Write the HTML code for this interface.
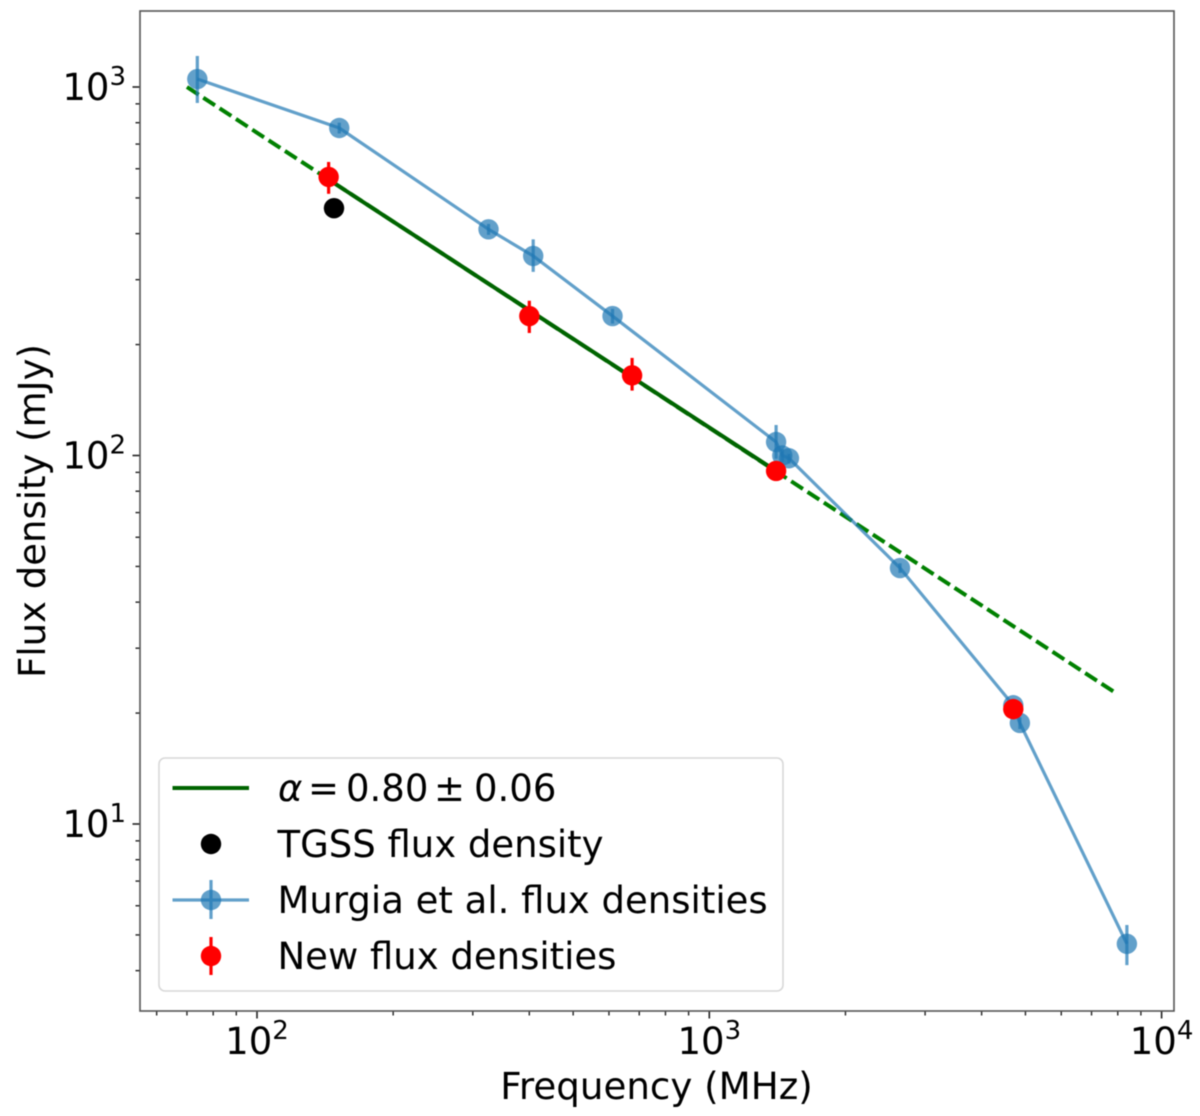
<!DOCTYPE html>
<html lang="en">
<head>
<meta charset="utf-8">
<title>Flux density spectrum</title>
<style>
  html, body { margin: 0; padding: 0; background: #fff; }
  #chart { display: block; width: 1200px; height: 1116px; filter: blur(0.6px); }
  text { font-family: "DejaVu Sans", "Liberation Sans", sans-serif; fill: #000; }
</style>
</head>
<body>
<svg id="chart" xmlns="http://www.w3.org/2000/svg" width="1200" height="1116" viewBox="0 0 1200 1116">
  <g id="marks"></g>
  <g id="axes"></g>
  <text x="656.5" y="1099" font-size="37.2" text-anchor="middle">Frequency (MHz)</text>
  <text transform="translate(45,511) rotate(-90)" font-size="37" text-anchor="middle">Flux density (mJy)</text>
  <g id="legend">
    <rect x="159" y="758" width="624" height="233" rx="6" fill="#fff" fill-opacity="0.8" stroke="#d8d8d8" stroke-width="1.6"/>
    <line x1="172.5" x2="249" y1="788" y2="788" stroke="#006400" stroke-width="4"/>
    <text y="801" font-size="37"><tspan x="278" font-style="italic">α</tspan><tspan x="308">=</tspan><tspan x="346">0.80</tspan><tspan x="434">±</tspan><tspan x="474">0.06</tspan></text>
    <circle cx="211" cy="844" r="10.2" fill="#000"/>
    <text x="277.5" y="857" font-size="37">TGSS flux density</text>
    <g opacity="0.7">
      <line x1="172.5" x2="249" y1="900" y2="900" stroke="#1f77b4" stroke-width="3.2"/>
      <line x1="211" x2="211" y1="880" y2="919" stroke="#1f77b4" stroke-width="3.2"/>
    </g>
    <circle cx="211" cy="900" r="10.2" fill="#1f77b4" fill-opacity="0.7"/>
    <text x="277.5" y="913" font-size="37">Murgia et al. flux densities</text>
    <line x1="211" x2="211" y1="937" y2="975" stroke="#ff0000" stroke-width="3.2"/>
    <circle cx="211" cy="956" r="10.2" fill="#ff0000"/>
    <text x="277.5" y="969" font-size="37">New flux densities</text>
  </g>
</svg>
<script>
// Murgia et al. series
const murgiaFreq  = [73.8, 152, 325, 408, 611, 1405, 1450, 1500, 2640, 4700, 4860, 8380];
const murgiaFlux  = [1051, 774, 411, 348, 239, 108.8, 100, 98.3, 49.5, 21, 18.8, 4.73];
const murgiaUpper = [1214, 800, 425, 386, 250, 121, 104, 101, 51, 21.8, 19.5, 5.32];
const murgiaLower = [905, 748, 397, 315, 228, 98, 96, 95, 48, 20.2, 18.1, 4.14];
// New flux densities
const newFreq  = [144, 400, 675, 1405, 4700];
const newFlux  = [570, 239, 165, 90.8, 20.5];
const newUpper = [626, 263, 184, 95, 21.2];
const newLower = [513, 215, 150, 86, 19.8];
// TGSS point
const tgssFreq = [148];
const tgssFlux = [469];
// Power-law fit, read at the ends of each segment
const fitDashedFreq = [70, 7950];
const fitDashedFlux = [1000, 22.6];
const fitSolidFreq  = [144, 1400];
const fitSolidFlux  = [561, 91];
// Axis ticks
const xMajorExponents = [2, 3, 4];
const yMajorExponents = [1, 2, 3];
const xMinorTicks = [60, 70, 80, 90, 200, 300, 400, 500, 600, 700, 800, 900, 2000, 3000, 4000, 5000, 6000, 7000, 8000, 9000];
const yMinorTicks = [4, 5, 6, 7, 8, 9, 20, 30, 40, 50, 60, 70, 80, 90, 200, 300, 400, 500, 600, 700, 800, 900];

const SVG_NS = 'http://www.w3.org/2000/svg';
const plotLeft = 140, plotRight = 1174, plotTop = 11, plotBottom = 1011;

function xScale(f) { return 257 + 452.3 * (Math.log10(f) - 2); }
function yScale(s) { return 87 + 368.5 * (3 - Math.log10(s)); }

function mk(parent, tag, attrs) {
  const el = document.createElementNS(SVG_NS, tag);
  for (const k in attrs) el.setAttribute(k, attrs[k]);
  parent.appendChild(el);
  return el;
}

const marks = document.getElementById('marks');
const axes = document.getElementById('axes');

function pointsOf(fs, vs) {
  return fs.map((f, i) => xScale(f).toFixed(2) + ',' + yScale(vs[i]).toFixed(2)).join(' ');
}

// Fit lines
const fitDashed = mk(marks, 'polyline', { points: pointsOf(fitDashedFreq, fitDashedFlux), fill: 'none', stroke: '#008000', 'stroke-width': 4, 'stroke-dasharray': '14 5.5' });


const fitSolid = mk(marks, 'polyline', { points: pointsOf(fitSolidFreq, fitSolidFlux), fill: 'none', stroke: '#006400', 'stroke-width': 4 });



// TGSS
tgssFreq.forEach((f, i) => {
  const c = mk(marks, 'circle', { cx: xScale(f), cy: yScale(tgssFlux[i]), r: 10.2, fill: '#000' });
  
  
});

// Murgia series
const murgiaLine = mk(marks, 'polyline', { points: pointsOf(murgiaFreq, murgiaFlux), fill: 'none', stroke: '#1f77b4', 'stroke-width': 3.2, 'stroke-opacity': 0.7 });


murgiaFreq.forEach((f, i) => {
  const x = xScale(f);
  const bar = mk(marks, 'line', { x1: x, x2: x, y1: yScale(murgiaUpper[i]), y2: yScale(murgiaLower[i]), stroke: '#1f77b4', 'stroke-width': 3.2, 'stroke-opacity': 0.7 });
  
  
  const c = mk(marks, 'circle', { cx: x, cy: yScale(murgiaFlux[i]), r: 10.2, fill: '#1f77b4', 'fill-opacity': 0.7 });
  
  
});

// New flux densities
newFreq.forEach((f, i) => {
  const x = xScale(f);
  const bar = mk(marks, 'line', { x1: x, x2: x, y1: yScale(newUpper[i]), y2: yScale(newLower[i]), stroke: '#ff0000', 'stroke-width': 3.2 });
  
  
  const c = mk(marks, 'circle', { cx: x, cy: yScale(newFlux[i]), r: 10.2, fill: '#ff0000' });
  
  
});

// Ticks
xMinorTicks.forEach(f => {
  const x = xScale(f);
  const t = mk(axes, 'line', { x1: x, x2: x, y1: plotBottom, y2: plotBottom + 4.5, stroke: '#222', 'stroke-width': 1.4 });
  
  
});
yMinorTicks.forEach(v => {
  const y = yScale(v);
  const t = mk(axes, 'line', { x1: plotLeft, x2: plotLeft - 4.5, y1: y, y2: y, stroke: '#222', 'stroke-width': 1.4 });
  
  
});

function tickLabel(x, y, exp, anchor) {
  const label = mk(axes, 'text', { x: x, y: y, 'font-size': 37, 'text-anchor': anchor });
  label.textContent = '10';
  const sup = mk(label, 'tspan', { dy: -15, 'font-size': 26 });
  sup.textContent = String(exp);
  return label;
}

xMajorExponents.forEach(e => {
  const x = xScale(Math.pow(10, e));
  const t = mk(axes, 'line', { x1: x, x2: x, y1: plotBottom, y2: plotBottom + 7.5, stroke: '#222', 'stroke-width': 1.6 });
  
  
  const l = tickLabel(x, 1054, e, 'middle');
  
  
});
yMajorExponents.forEach(e => {
  const y = yScale(Math.pow(10, e));
  const t = mk(axes, 'line', { x1: plotLeft, x2: plotLeft - 7.5, y1: y, y2: y, stroke: '#222', 'stroke-width': 1.6 });
  
  
  const l = tickLabel(126, y + 13, e, 'end');
  
  
});

// Frame
const frame = mk(axes, 'rect', { x: plotLeft, y: plotTop, width: plotRight - plotLeft, height: plotBottom - plotTop, fill: 'none', stroke: '#555', 'stroke-width': 1.6 });


</script>
</body>
</html>
